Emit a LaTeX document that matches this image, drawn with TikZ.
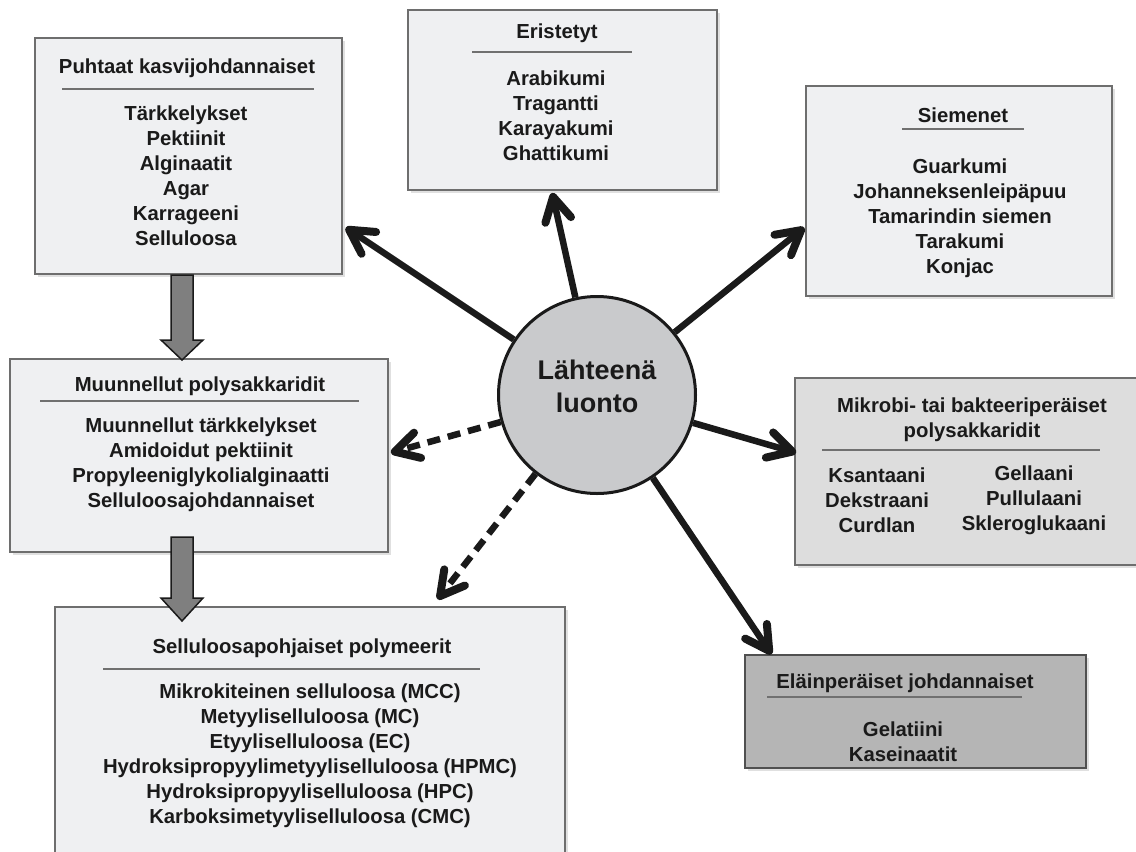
\documentclass[tikz,border=0pt]{standalone}
\usepackage{fontspec}
\setmainfont{Liberation Sans}
\usetikzlibrary{arrows.meta,shadows,calc}
\definecolor{boxfill}{HTML}{EFF0F2}
\definecolor{boxline}{HTML}{6E6E6E}
\definecolor{darkline}{HTML}{505050}
\definecolor{midfill}{HTML}{DDDDDD}
\definecolor{darkfill}{HTML}{B5B5B5}
\definecolor{circfill}{HTML}{C9CACC}
\definecolor{blockfill}{HTML}{7F7F7F}
\definecolor{inkcol}{HTML}{1A1A1A}
\definecolor{rulecol}{HTML}{707070}
\newcommand\myhead[2]{\draw[headst] ($(#1)!27pt!29:(#2)$) -- (#1) -- ($(#1)!27pt!-29:(#2)$);}
\begin{document}
\begin{tikzpicture}[x=1pt,y=-1pt,
  box/.style={draw=boxline, line width=1.4pt, fill=boxfill, inner sep=0pt,
    drop shadow={shadow xshift=2.5pt, shadow yshift=-2.5pt, fill=black, opacity=0.12}},
  txt/.style={font=\fontsize{20.3}{25}\selectfont\bfseries, align=center, inner sep=0pt, text=inkcol},
  rulel/.style={draw=rulecol, line width=1.1pt},
  conn/.style={line width=6.5pt, draw=inkcol},
  dconn/.style={conn, dash pattern=on 13pt off 8pt},
  headst/.style={line width=8pt, draw=inkcol, line cap=round, line join=round},
  blockarrow/.style={fill=blockfill, draw=inkcol, line width=1.5pt, line join=miter}]
\useasboundingbox (0,0) rectangle (1136,852);
\begin{scope}
\clip (0,0) rectangle (1136,852);

% boxes
\node[box, minimum width=307pt, minimum height=236pt] (p1) at (188.5,156) {};
\node[box, minimum width=309pt, minimum height=180pt] (p2) at (562.5,100) {};
\node[box, minimum width=306pt, minimum height=210pt] (p3) at (959,191) {};
\node[box, minimum width=378pt, minimum height=193pt] (p4) at (199,455.5) {};
\node[box, fill=midfill, minimum width=350pt, minimum height=187pt] (p5) at (970,471.5) {};
\node[box, fill=darkfill, draw=darkline, minimum width=341pt, minimum height=113pt] (p6) at (915.5,711.5) {};
\node[box, minimum width=510pt, minimum height=263pt] (p7) at (310,738.5) {};

% block arrows
\draw[blockarrow] (171,275) -- (193,275) -- (193,340) -- (203,340) -- (182,360) -- (161,340) -- (171,340) -- cycle;
\draw[blockarrow] (171,537) -- (193,537) -- (193,598) -- (203,598) -- (182,621) -- (161,598) -- (171,598) -- cycle;

% texts
\node[txt] (p1t) at (187,68) {Puhtaat kasvijohdannaiset};
\draw[rulel] (62,89) -- (314,89);
\node[txt] (p1i) at (186,175.5) {Tärkkelykset\\Pektiinit\\Alginaatit\\Agar\\Karrageeni\\Selluloosa};

\node[txt] (p2t) at (557,33) {Eristetyt};
\draw[rulel] (472,52) -- (632,52);
\node[txt] (p2i) at (556,115.5) {Arabikumi\\Tragantti\\Karayakumi\\Ghattikumi};

\node[txt] (p3t) at (963,115) {Siemenet};
\draw[rulel] (902,129) -- (1024,129);
\node[txt] (p3i) at (960,218) {Guarkumi\\Johanneksenleipäpuu\\Tamarindin siemen\\Tarakumi\\Konjac};

\node[txt] (p4t) at (200,386) {Muunnellut polysakkaridit};
\draw[rulel] (40,401) -- (359,401);
\node[txt] (p4i) at (201,464.5) {Muunnellut tärkkelykset\\Amidoidut pektiinit\\Propyleeniglykolialginaatti\\Selluloosajohdannaiset};

\node[txt] (p5t) at (972,420) {Mikrobi- tai bakteeriperäiset\\polysakkaridit};
\draw[rulel] (822,450) -- (1100,450);
\node[txt] (p5a) at (877,500) {Ksantaani\\Dekstraani\\Curdlan};
\node[txt] (p5b) at (1034,500) {Gellaani\\Pullulaani\\Skleroglukaani};

\node[txt] (p6t) at (905,683) {Eläinperäiset johdannaiset};
\draw[rulel] (767,697) -- (1022,697);
\node[txt] (p6i) at (903,742) {Gelatiini\\Kaseinaatit};

\node[txt] (p7t) at (302,648) {Selluloosapohjaiset polymeerit};
\draw[rulel] (103,669) -- (480,669);
\node[txt] (p7i) at (310,755.5) {Mikrokiteinen selluloosa (MCC)\\Metyyliselluloosa (MC)\\Etyyliselluloosa (EC)\\Hydroksipropyylimetyyliselluloosa (HPMC)\\Hydroksipropyyliselluloosa (HPC)\\Karboksimetyyliselluloosa (CMC)};

% centre
\node[circle, draw=inkcol, line width=3pt, fill=circfill, minimum size=197pt, inner sep=0pt] (c) at (597,395) {};
\node[font=\fontsize{27}{33}\selectfont\bfseries, align=center, inner sep=0pt, text=inkcol] (ct) at (597,386.5) {Lähteenä\\luonto};

% arrow tips (outer point of each head)
\coordinate (t1) at (345,227);
\coordinate (t2) at (552,192);
\coordinate (t3) at (805,227);
\coordinate (t4) at (797,453);
\coordinate (t5) at (772,655);
\coordinate (t6) at (390,453);
\coordinate (t7) at (437,600);
% head apex, pulled back by the half line width
\coordinate (h1) at ($(t1)!5pt!(c)$);
\coordinate (h2) at ($(t2)!5pt!(c)$);
\coordinate (h3) at ($(t3)!5pt!(c)$);
\coordinate (h4) at ($(t4)!5pt!(c)$);
\coordinate (h5) at ($(t5)!5pt!(c)$);
\coordinate (h6) at ($(t6)!5pt!(c)$);
\coordinate (h7) at ($(t7)!5pt!(c)$);

\draw[conn] (c) -- (h1); \myhead{h1}{c}
\draw[conn] (c) -- (h2); \myhead{h2}{c}
\draw[conn] (c) -- (h3); \myhead{h3}{c}
\draw[conn] (c) -- (h4); \myhead{h4}{c}
\draw[conn] (c) -- (h5); \myhead{h5}{c}
\draw[dconn] (c) -- ($(h6)!6pt!(c)$); \myhead{h6}{c}
\draw[dconn] (c) -- ($(h7)!6pt!(c)$); \myhead{h7}{c}
\end{scope}
\end{tikzpicture}
\end{document}
